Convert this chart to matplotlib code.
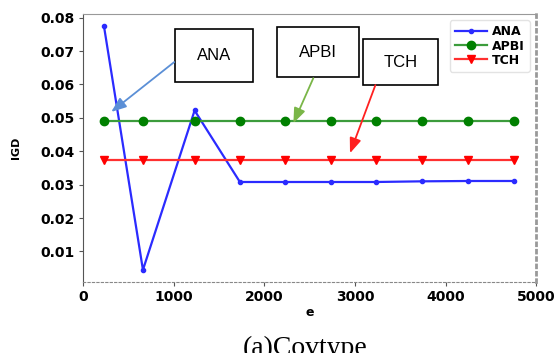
import matplotlib.pyplot as plt
from matplotlib.patches import Rectangle

# IGD over evaluations e
e = [230, 660, 1230, 1730, 2230, 2730, 3230, 3740, 4250, 4750]
ana = [0.0774, 0.0045, 0.0522, 0.0308, 0.0308, 0.0308, 0.0308, 0.0310, 0.0311, 0.0311]
apbi = [0.0492, 0.0492, 0.0492, 0.0492, 0.0492, 0.0492, 0.0492, 0.0492, 0.0492, 0.0492]
tch = [0.0373, 0.0373, 0.0373, 0.0373, 0.0373, 0.0373, 0.0373, 0.0373, 0.0373, 0.0373]

# callout boxes: label, box (x0, y0, x1, y1) in axes fraction, arrow start, arrow tip, colour
callouts = [
    ("ANA", (0.203, 0.746, 0.375, 0.944), (0.201, 0.821), (0.062, 0.635), "#5b8fd6"),
    ("APBI", (0.428, 0.765, 0.609, 0.951), (0.508, 0.761), (0.464, 0.593), "#7ab648"),
    ("TCH", (0.618, 0.735, 0.784, 0.907), (0.645, 0.735), (0.589, 0.481), "#ff2020"),
]

fig = plt.figure(figsize=(5.58, 3.53), dpi=100)
ax = fig.add_axes([0.149, 0.201, 0.812, 0.759])

ax.plot(e, ana, color="#2b2bff", lw=1.6, marker=".", ms=6, label="ANA")
ax.plot(e, apbi, color="#3c9c3c", lw=1.6, marker="o", ms=6,
        mfc="#008000", mec="#008000", label="APBI")
ax.plot(e, tch, color="#ff3030", lw=1.6, marker="v", ms=6,
        mfc="#ff0000", mec="#ff0000", label="TCH")

ax.set_xlim(0, 5000)
ax.set_xticks([0, 1000, 2000, 3000, 4000, 5000])
ax.set_yticks([0.01, 0.02, 0.03, 0.04, 0.05, 0.06, 0.07, 0.08])
ax.set_yticklabels(["0.01", "0.02", "0.03", "0.04", "0.05", "0.06", "0.07", "0.08"])
for lab in ax.get_xticklabels() + ax.get_yticklabels():
    lab.set_fontweight("bold")
    lab.set_fontsize(10)
ax.tick_params(length=3, color="#555555", pad=3)

ax.set_xlabel("e", fontweight="bold", fontsize=9, labelpad=1)
ax.set_ylabel("IGD", fontweight="bold", fontsize=8, labelpad=14)

ax.spines["left"].set_color("#555555")
ax.spines["top"].set_color("#999999")
ax.spines["right"].set_color("#999999")
ax.spines["right"].set_linestyle(":")
ax.spines["right"].set_linewidth(2)
ax.spines["bottom"].set_color("#888888")
ax.spines["bottom"].set_linestyle((0, (2, 2)))

leg = ax.legend(loc="upper right", prop={"weight": "bold", "size": 9},
                handlelength=2.6, borderpad=0.4, labelspacing=0.1,
                handletextpad=0.4, borderaxespad=0.5, fancybox=True)
leg.get_frame().set_edgecolor("#dddddd")

for text, (x0, y0, x1, y1), start, tip, col in callouts:
    ax.add_patch(Rectangle((x0, y0), x1 - x0, y1 - y0, transform=ax.transAxes,
                           fc="white", ec="black", lw=1.2, zorder=5))
    ax.text((x0 + x1) / 2, (y0 + y1) / 2, text, transform=ax.transAxes,
            ha="center", va="center", fontsize=12, family="Liberation Sans", zorder=6)
    ax.annotate("", xy=tip, xytext=start, xycoords="axes fraction",
                textcoords="axes fraction", zorder=6,
                arrowprops=dict(arrowstyle="-|>,head_width=0.35,head_length=0.9",
                                color=col, lw=1.3, shrinkA=0, shrinkB=0))

fig.text(0.435, -0.006, "(a)Covtype", family="Liberation Serif", fontsize=20,
         ha="left", va="baseline")

fig.savefig("out.png", dpi=100)
